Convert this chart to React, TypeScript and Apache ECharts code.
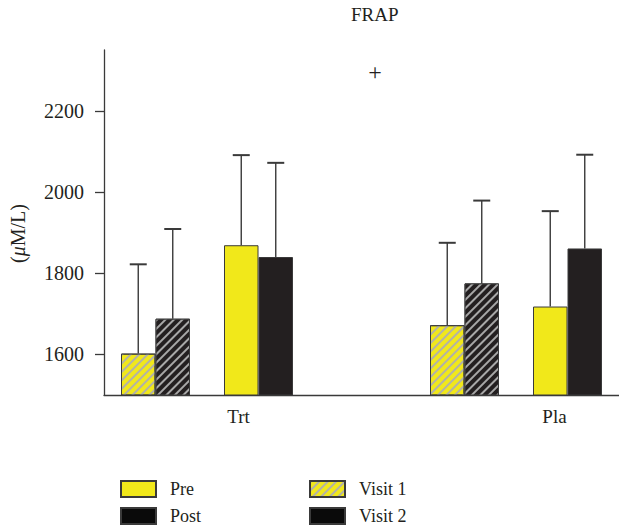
import React, { useEffect, useRef } from 'react';
import * as echarts from 'echarts';

const categories = ['Trt-V1', 'Trt-V2', 'gap', 'Pla-V1', 'Pla-V2'];
const groupLabels: Record<string, string> = { 'Trt-V2': 'Trt', 'Pla-V2': 'Pla' };
const preMean = [1602, 1869, null, 1672, 1718];
const preTop = [1822, 2091, null, 1875, 1953];
const postMean = [1688, 1840, null, 1775, 1861];
const postTop = [1909, 2072, null, 1979, 2092];
const hatched = [true, false, false, true, false];
const yTicks = [1600, 1800, 2000, 2200];
const legendNames = ['Pre', 'Post', 'Visit 1', 'Visit 2'];
const annotation = { categoryIndex: 2, value: 2296, text: '+' };

const FONT = '"Liberation Serif", "DejaVu Serif", serif';
const YELLOW = '#f1e81a';
const BLACK = '#231f20';
const LEGEND_BLACK = '#0a0a0a';
const EDGE = '#3a3a3a';
const BAR_W = 34.5;

const decal = {
  symbol: 'rect',
  symbolSize: 1,
  color: 'rgba(175,175,175,0.95)',
  dashArrayX: [1, 0],
  dashArrayY: [1.3, 3.7],
  rotation: -Math.PI / 4,
};

function barData(vals: (number | null)[]) {
  return vals.map((v, i) =>
    v == null ? null : hatched[i] ? { value: v, itemStyle: { decal } } : { value: v }
  );
}

function errData(mean: (number | null)[], top: (number | null)[]) {
  const out: any[] = [];
  mean.forEach((m, i) => {
    if (m != null && top[i] != null) out.push([i, m, top[i]]);
  });
  return out;
}

function errRender(offset: number) {
  return (params: any, api: any) => {
    const i = api.value(0);
    const p0 = api.coord([i, api.value(1)]);
    const p1 = api.coord([i, api.value(2)]);
    const x = p0[0] + offset;
    return {
      type: 'group',
      children: [
        { type: 'line', shape: { x1: x, y1: p0[1], x2: x, y2: p1[1] }, style: { stroke: EDGE, lineWidth: 1.4 } },
        { type: 'line', shape: { x1: x - 8.5, y1: p1[1], x2: x + 8.5, y2: p1[1] }, style: { stroke: EDGE, lineWidth: 2 } },
      ],
    };
  };
}

function annRender(params: any, api: any) {
  const p = api.coord([api.value(0), api.value(1)]);
  return {
    type: 'text',
    x: p[0] + 13.5,
    y: p[1],
    style: {
      text: annotation.text,
      fontFamily: FONT,
      fontSize: 24,
      fill: BLACK,
      align: 'center',
      verticalAlign: 'middle',
    },
  };
}

export default function App() {
  const ref = useRef<HTMLDivElement>(null);
  useEffect(() => {
    if (!ref.current) return;
    const chart = echarts.init(ref.current, undefined, { renderer: 'svg' });
    chart.setOption({
      animation: false,
      backgroundColor: '#ffffff',
      title: {
        text: 'FRAP',
        left: 351,
        top: 5,
        padding: 0,
        textStyle: { fontFamily: FONT, fontSize: 19, fontWeight: 'normal', color: BLACK },
      },
      grid: { left: 103, right: -3, top: 50, bottom: 134, containLabel: false },
      legend: {
        data: legendNames.map((n) =>
          n === 'Post' ? { name: n, itemStyle: { color: LEGEND_BLACK } } : { name: n }
        ),
        orient: 'vertical',
        left: 120,
        top: 480,
        height: 46,
        padding: 0,
        icon: 'rect',
        itemWidth: 35,
        itemHeight: 16,
        itemGap: 9,
        formatter: (name: string) => '{t|' + name + '}',
        textStyle: {
          fontFamily: FONT,
          fontSize: 18,
          color: BLACK,
          lineHeight: 16,
          rich: {
            t: { fontFamily: FONT, fontSize: 18, color: BLACK, width: 130, lineHeight: 16, padding: [0, 0, 0, 9] },
          },
        },
      },
      xAxis: {
        type: 'category',
        data: categories,
        axisLine: { lineStyle: { color: EDGE, width: 1.3 } },
        axisTick: { show: false },
        axisLabel: {
          interval: 0,
          margin: 12,
          formatter: (v: string) => (groupLabels[v] ? '{' + groupLabels[v] + '|' + groupLabels[v] + '}' : ''),
          rich: {
            Trt: { fontFamily: FONT, fontSize: 19, color: BLACK, padding: [0, 40, 0, 0] },
            Pla: { fontFamily: FONT, fontSize: 19, color: BLACK, padding: [0, 26, 0, 0] },
          },
        },
      },
      yAxis: {
        type: 'value',
        min: 1500,
        max: 2350,
        name: '({i|\u03bc}M/L)',
        nameLocation: 'middle',
        nameGap: 76,
        nameRotate: 90,
        nameTextStyle: {
          fontFamily: FONT,
          fontSize: 20,
          color: BLACK,
          padding: [0, 22, 0, 0],
          rich: { i: { fontFamily: FONT, fontSize: 20, fontStyle: 'italic', color: BLACK } },
        },
        splitLine: { show: false },
        axisLine: { show: true, lineStyle: { color: EDGE, width: 1.3 } },
        axisTick: { show: true, length: 9, customValues: yTicks, lineStyle: { color: EDGE, width: 1.3 } },
        axisLabel: {
          customValues: yTicks,
          margin: 20,
          formatter: (v: number) => String(v),
          fontFamily: FONT,
          fontSize: 20,
          color: BLACK,
        },
      },
      series: [
        {
          name: 'Pre',
          type: 'bar',
          stack: 'pre',
          barWidth: BAR_W,
          barGap: '0%',
          data: barData(preMean),
          itemStyle: { color: YELLOW, borderColor: EDGE, borderWidth: 1 },
        },
        {
          name: 'Post',
          type: 'bar',
          stack: 'post',
          barWidth: BAR_W,
          barGap: '0%',
          data: barData(postMean),
          itemStyle: { color: BLACK, borderColor: EDGE, borderWidth: 1 },
        },
        {
          name: 'Visit 1',
          type: 'bar',
          stack: 'pre',
          barWidth: BAR_W,
          data: [],
          itemStyle: { color: YELLOW, borderColor: EDGE, borderWidth: 1, decal },
        },
        {
          name: 'Visit 2',
          type: 'bar',
          stack: 'post',
          barWidth: BAR_W,
          data: [],
          itemStyle: { color: LEGEND_BLACK, borderColor: EDGE, borderWidth: 1 },
        },
        {
          type: 'custom',
          name: 'preErr',
          renderItem: errRender(-BAR_W / 2),
          data: errData(preMean, preTop),
          encode: { x: 0, y: [1, 2] },
          z: 3,
        },
        {
          type: 'custom',
          name: 'postErr',
          renderItem: errRender(BAR_W / 2),
          data: errData(postMean, postTop),
          encode: { x: 0, y: [1, 2] },
          z: 3,
        },
        {
          type: 'custom',
          name: 'annotation',
          renderItem: annRender,
          data: [[annotation.categoryIndex, annotation.value]],
          encode: { x: 0, y: 1 },
          z: 5,
        },
      ],
    });
    return () => chart.dispose();
  }, []);
  return (
    <div
      ref={ref}
      style={{ position: 'fixed', left: 0, top: 0, width: 619, height: 529, background: '#fff' }}
    />
  );
}
